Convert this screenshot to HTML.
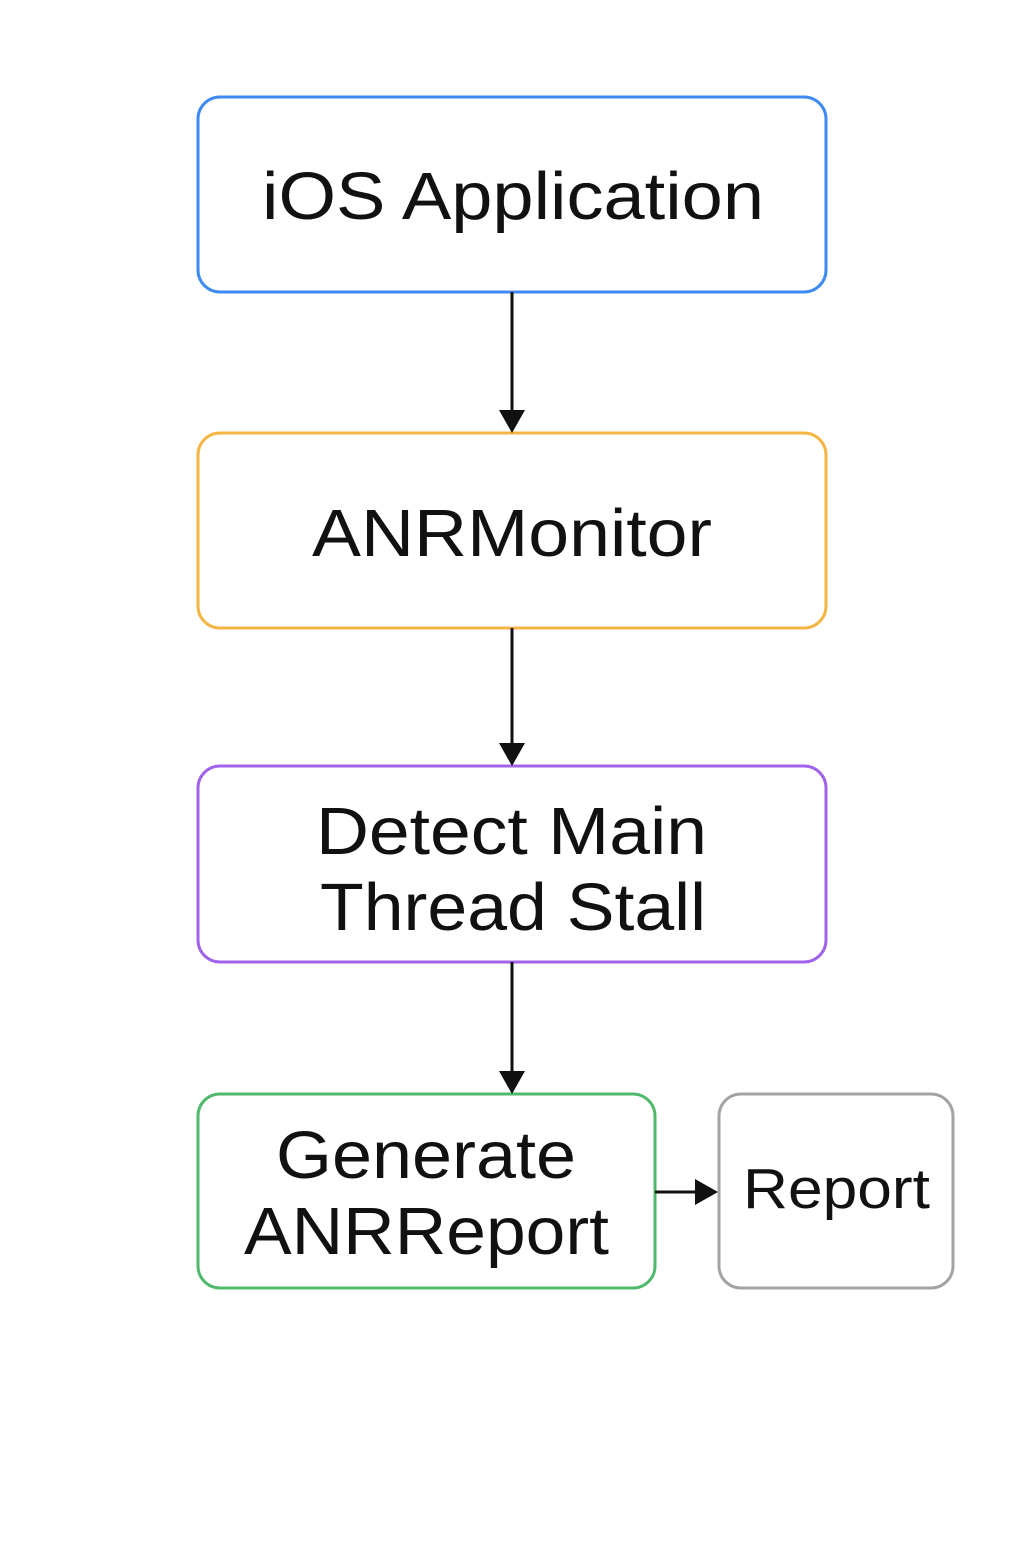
<!DOCTYPE html>
<html><head><meta charset="utf-8"><style>html,body{margin:0;padding:0;background:#fff}</style></head>
<body>
<svg width="1024" height="1536" viewBox="0 0 1024 1536" xmlns="http://www.w3.org/2000/svg">
<rect width="1024" height="1536" fill="#fff"/>
<g fill="#fff" stroke-width="3">
<rect x="198" y="97" width="628" height="195" rx="22" stroke="#3d8af0"/>
<rect x="198" y="433" width="628" height="195" rx="22" stroke="#f6b443"/>
<rect x="198" y="766" width="628" height="196" rx="22" stroke="#a263ea"/>
<rect x="198" y="1094" width="457" height="194" rx="22" stroke="#4fba6c"/>
<rect x="719" y="1094" width="234" height="194" rx="22" stroke="#a3a3a3"/>
</g>
<g stroke="#111" stroke-width="3">
<line x1="512" y1="292" x2="512" y2="415"/>
<line x1="512" y1="628" x2="512" y2="748"/>
<line x1="512" y1="962" x2="512" y2="1076"/>
<line x1="655" y1="1192" x2="700" y2="1192"/>
</g>
<g fill="#111">
<polygon points="499,410 525,410 512,433"/>
<polygon points="499,743 525,743 512,766"/>
<polygon points="499,1071 525,1071 512,1094"/>
<polygon points="695,1179 695,1205 718,1192"/>
</g>
<g font-family="Liberation Sans, sans-serif" fill="#111" font-size="67" lengthAdjust="spacingAndGlyphs">
<text x="262" y="219" textLength="502" lengthAdjust="spacingAndGlyphs">iOS Application</text>
<text x="312" y="556" textLength="400" lengthAdjust="spacingAndGlyphs">ANRMonitor</text>
<text x="316" y="854" textLength="391" lengthAdjust="spacingAndGlyphs">Detect Main</text>
<text x="320" y="930" textLength="386" lengthAdjust="spacingAndGlyphs">Thread Stall</text>
<text x="276" y="1178" textLength="300" lengthAdjust="spacingAndGlyphs">Generate</text>
<text x="244" y="1254" textLength="365" lengthAdjust="spacingAndGlyphs">ANRReport</text>
<text x="743" y="1208" font-size="57" textLength="187" lengthAdjust="spacingAndGlyphs">Report</text>
</g>
</svg>
</body></html>
